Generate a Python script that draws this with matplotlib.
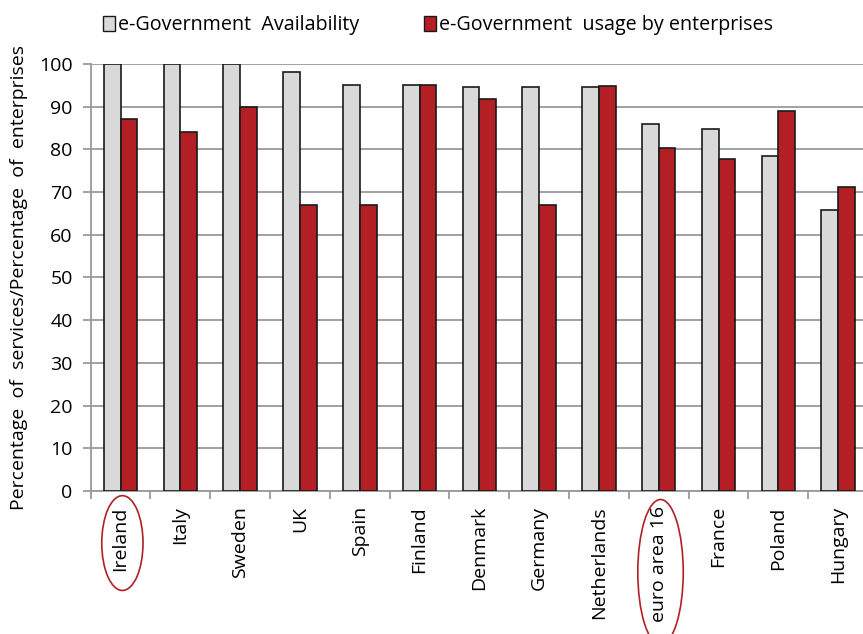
import matplotlib.pyplot as plt
from matplotlib.patches import Ellipse, Patch
from matplotlib.transforms import blended_transform_factory
import numpy as np

countries = ["Ireland", "Italy", "Sweden", "UK", "Spain", "Finland", "Denmark",
             "Germany", "Netherlands", "euro area 16", "France", "Poland", "Hungary"]
availability = [100, 100, 100, 98.2, 95, 95, 94.5, 94.5, 94.5, 85.9, 84.8, 78.5, 65.8]
usage = [87, 84, 90, 67, 67, 95, 91.9, 67, 94.9, 80.4, 77.7, 88.9, 71.1]

gray = "#d9d9d9"
red = "#b31f24"
grid_col = "#9a9a9a"

plt.rcParams['font.family'] = ['Open Sans', 'DejaVu Sans']

fig = plt.figure(figsize=(8.63, 6.34), dpi=100)
ax = fig.add_axes([0.1051, 0.2256, 0.9007, 0.6735])

x = np.arange(len(countries))
w = 0.28
ax.bar(x - w / 2, availability, w, color=gray, edgecolor="#1a1a1a", linewidth=1.2, zorder=3)
ax.bar(x + w / 2, usage, w, color=red, edgecolor="#1a1a1a", linewidth=1.2, zorder=3)

ax.set_xlim(-0.5, len(countries) - 0.5)
ax.set_ylim(0, 100)
ax.set_yticks(range(0, 101, 10))
ax.yaxis.grid(True, color=grid_col, linewidth=1.3, zorder=0)
ax.set_axisbelow(True)

# ticks sit between categories, labels at centres
ax.set_xticks(np.arange(-0.5, len(countries), 1.0))
ax.set_xticklabels([])
ax.set_xticks(x, minor=True)
ax.set_xticklabels(countries, minor=True, rotation=90, va="top", ha="center", fontsize=14)
ax.tick_params(axis="x", which="minor", length=0, pad=11)
ax.tick_params(axis="x", which="major", length=6, width=1.3, color=grid_col, direction="out")
ax.tick_params(axis="y", length=6, width=1.3, color=grid_col, labelsize=14, pad=7)

for s in ["top", "right"]:
    ax.spines[s].set_visible(False)
for s in ["left", "bottom"]:
    ax.spines[s].set_color(grid_col)
    ax.spines[s].set_linewidth(1.3)

ax.set_ylabel("Percentage  of  services/Percentage  of  enterprises", fontsize=14, labelpad=8)

# red ovals around highlighted labels
trans = blended_transform_factory(ax.transData, ax.transAxes)
for name, cy, h, wd in [("Ireland", -0.122, 0.222, 0.69), ("euro area 16", -0.19, 0.34, 0.76)]:
    i = countries.index(name)
    ax.add_patch(Ellipse((i + 0.03, cy), wd, h, transform=trans, fill=False,
                         edgecolor=red, linewidth=1.2, clip_on=False))

handles = [Patch(facecolor=gray, edgecolor="#1a1a1a", label="e-Government  Availability"),
           Patch(facecolor=red, edgecolor="#1a1a1a", label="e-Government  usage by enterprises")]
fig.legend(handles=handles, loc="center left", bbox_to_anchor=(0.110, 0.96), ncol=2,
           frameon=False, fontsize=14.2, handlelength=0.6, handleheight=0.75,
           handletextpad=0.15, columnspacing=3.3, borderaxespad=0)

fig.savefig("out.png", dpi=100)
